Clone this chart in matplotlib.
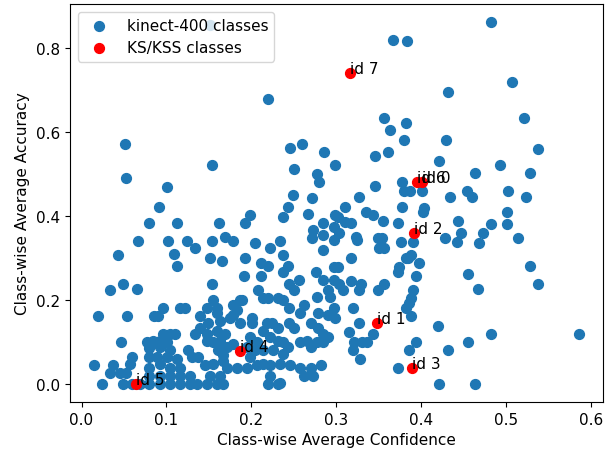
import matplotlib
matplotlib.use("Agg")
import matplotlib.pyplot as plt

plt.rcParams["font.size"] = 11

# kinect-400 classes: class-wise average confidence / accuracy
conf = [
    0.151, 0.482, 0.367, 0.383, 0.507, 0.432, 0.220, 0.522, 0.357, 0.363,
    0.382, 0.380, 0.430, 0.538, 0.361, 0.346, 0.421, 0.493, 0.464, 0.529,
    0.346, 0.378, 0.380, 0.387, 0.401, 0.327, 0.434, 0.454, 0.460, 0.503,
    0.524, 0.051, 0.052, 0.101, 0.154, 0.246, 0.260, 0.286, 0.299, 0.250,
    0.277, 0.280, 0.249, 0.272,
    0.310, 0.335, 0.344, 0.355, 0.373, 0.378, 0.404, 0.402, 0.444, 0.447,
    0.473, 0.483, 0.469, 0.502, 0.501, 0.514, 0.443, 0.428, 0.299, 0.302,
    0.311, 0.317, 0.297, 0.303, 0.297, 0.323, 0.325, 0.349, 0.354, 0.350,
    0.356, 0.376, 0.391, 0.318, 0.385, 0.398, 0.382, 0.388, 0.374, 0.373,
    0.394, 0.297, 0.302, 0.297, 0.303, 0.308, 0.318, 0.329, 0.327, 0.349,
    0.356, 0.391, 0.388, 0.386, 0.382, 0.388, 0.297, 0.299, 0.320, 0.456,
    0.467, 0.528, 0.538, 0.327, 0.315, 0.344, 0.321, 0.331, 0.337, 0.320,
    0.328, 0.420, 0.482, 0.586, 0.456, 0.432, 0.394, 0.386, 0.373, 0.421,
    0.464,
    0.091, 0.243, 0.267, 0.238, 0.199, 0.193, 0.162, 0.112, 0.079, 0.285,
    0.273, 0.284, 0.272, 0.066, 0.102, 0.124, 0.134, 0.154, 0.169, 0.178,
    0.205, 0.222, 0.234, 0.284, 0.043, 0.109, 0.112, 0.151, 0.166, 0.193,
    0.211, 0.220, 0.238, 0.243, 0.238, 0.276, 0.285, 0.191, 0.211, 0.154,
    0.244, 0.256, 0.250, 0.033, 0.049, 0.065, 0.208, 0.214, 0.220, 0.232,
    0.238, 0.155, 0.189, 0.278, 0.290, 0.293, 0.244, 0.262, 0.258, 0.279,
    0.290, 0.179, 0.183, 0.187, 0.160, 0.148, 0.116, 0.122, 0.096, 0.086,
    0.090, 0.054, 0.019, 0.140, 0.149, 0.160, 0.163, 0.175, 0.179, 0.201,
    0.201, 0.187, 0.219, 0.225, 0.231, 0.214, 0.244, 0.250, 0.270, 0.279,
    0.285, 0.291, 0.140, 0.148, 0.160, 0.134, 0.169, 0.096, 0.104, 0.110,
    0.047, 0.077, 0.084, 0.092, 0.101, 0.080, 0.092, 0.104, 0.148, 0.155,
    0.163, 0.172, 0.179, 0.199, 0.207, 0.222, 0.231, 0.238, 0.243, 0.258,
    0.266, 0.270, 0.278, 0.285, 0.205, 0.214, 0.226, 0.238, 0.161, 0.167,
    0.195, 0.199, 0.060, 0.057, 0.080, 0.089, 0.101, 0.112, 0.125, 0.130,
    0.137, 0.146, 0.155, 0.167, 0.015, 0.037, 0.045, 0.033, 0.053, 0.080,
    0.092, 0.104, 0.116, 0.207, 0.214, 0.222, 0.234, 0.246, 0.258, 0.270,
    0.282, 0.172, 0.183, 0.195, 0.262, 0.273, 0.222, 0.234, 0.024, 0.049,
    0.059, 0.069, 0.080, 0.092, 0.104, 0.116, 0.128, 0.136, 0.148, 0.160,
    0.167, 0.151, 0.163, 0.104, 0.116, 0.128, 0.080, 0.092, 0.220, 0.232,
]
acc = [
    0.855, 0.862, 0.819, 0.817, 0.719, 0.695, 0.679, 0.633, 0.633, 0.605,
    0.621, 0.580, 0.580, 0.559, 0.552, 0.542, 0.531, 0.521, 0.502, 0.502,
    0.471, 0.480, 0.459, 0.459, 0.459, 0.445, 0.445, 0.459, 0.445, 0.459,
    0.445, 0.571, 0.490, 0.469, 0.521, 0.562, 0.571, 0.552, 0.521, 0.511,
    0.500, 0.480, 0.449, 0.444,
    0.421, 0.409, 0.402, 0.387, 0.383, 0.421, 0.418, 0.409, 0.387, 0.359,
    0.359, 0.380, 0.335, 0.409, 0.380, 0.347, 0.337, 0.347, 0.402, 0.397,
    0.385, 0.383, 0.373, 0.359, 0.342, 0.349, 0.342, 0.347, 0.347, 0.325,
    0.323, 0.337, 0.337, 0.301, 0.301, 0.287, 0.299, 0.306, 0.278, 0.266,
    0.258, 0.278, 0.278, 0.247, 0.239, 0.223, 0.244, 0.239, 0.223, 0.223,
    0.239, 0.223, 0.204, 0.192, 0.182, 0.161, 0.180, 0.158, 0.182, 0.261,
    0.225, 0.280, 0.239, 0.144, 0.123, 0.120, 0.099, 0.099, 0.099, 0.080,
    0.060, 0.139, 0.120, 0.118, 0.101, 0.080, 0.101, 0.080, 0.039, 0.000,
    0.000,
    0.421, 0.421, 0.406, 0.397, 0.402, 0.383, 0.383, 0.383, 0.383, 0.383,
    0.366, 0.354, 0.347, 0.340, 0.340, 0.340, 0.323, 0.340, 0.349, 0.340,
    0.335, 0.325, 0.340, 0.320, 0.306, 0.309, 0.280, 0.299, 0.294, 0.301,
    0.287, 0.280, 0.306, 0.282, 0.266, 0.266, 0.247, 0.258, 0.258, 0.239,
    0.239, 0.247, 0.223, 0.223, 0.239, 0.225, 0.223, 0.204, 0.204, 0.204,
    0.199, 0.201, 0.201, 0.206, 0.223, 0.206, 0.180, 0.187, 0.168, 0.168,
    0.163, 0.187, 0.175, 0.199, 0.180, 0.180, 0.182, 0.182, 0.182, 0.161,
    0.161, 0.161, 0.161, 0.161, 0.144, 0.168, 0.151, 0.158, 0.163, 0.158,
    0.146, 0.144, 0.144, 0.146, 0.134, 0.127, 0.146, 0.134, 0.144, 0.134,
    0.120, 0.111, 0.134, 0.120, 0.127, 0.120, 0.120, 0.120, 0.120, 0.120,
    0.099, 0.099, 0.103, 0.103, 0.099, 0.085, 0.087, 0.080, 0.103, 0.099,
    0.103, 0.087, 0.096, 0.111, 0.099, 0.111, 0.103, 0.099, 0.087, 0.099,
    0.103, 0.087, 0.099, 0.099, 0.080, 0.080, 0.080, 0.072, 0.080, 0.068,
    0.087, 0.063, 0.063, 0.048, 0.063, 0.063, 0.063, 0.060, 0.080, 0.063,
    0.063, 0.044, 0.048, 0.055, 0.044, 0.044, 0.025, 0.025, 0.027, 0.039,
    0.048, 0.039, 0.037, 0.044, 0.048, 0.044, 0.048, 0.044, 0.039, 0.039,
    0.044, 0.039, 0.039, 0.039, 0.020, 0.020, 0.020, 0.003, 0.000, 0.000,
    0.000, 0.000, 0.000, 0.000, 0.000, 0.000, 0.000, 0.000, 0.000, 0.000,
    0.000, 0.020, 0.020, 0.020, 0.020, 0.020, 0.020, 0.020, 0.000, 0.000,
]

# KS/KSS classes
ks_ids = ["id 0", "id 1", "id 2", "id 3", "id 4", "id 5", "id 6", "id 7"]
ks_conf = [0.401, 0.348, 0.392, 0.390, 0.187, 0.064, 0.395, 0.316]
ks_acc = [0.480, 0.146, 0.359, 0.039, 0.079, 0.000, 0.480, 0.741]

fig = plt.figure(figsize=(6.12, 4.52), dpi=100)
ax = fig.add_axes([0.1144, 0.1084, 0.8709, 0.8805])

ax.scatter(conf, acc, s=50, label="kinect-400 classes")
ax.scatter(ks_conf, ks_acc, s=50, color="red", label="KS/KSS classes")
for name, x, y in zip(ks_ids, ks_conf, ks_acc):
    ax.text(x, y, name)

ax.set_xlabel("Class-wise Average Confidence")
ax.set_ylabel("Class-wise Average Accuracy")
ax.legend(loc="upper left")

fig.savefig("out.png", dpi=100)
